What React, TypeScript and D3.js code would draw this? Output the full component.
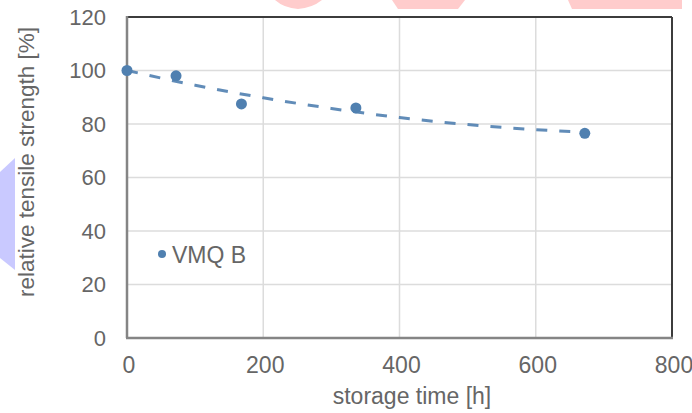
import React from "react";
import * as d3 from "d3";

// measured points (storage time in h, relative tensile strength in %)
const hours = [0, 72, 168, 336, 672];
const strength = [100, 98, 87.5, 86, 76.5];

// dashed trend line
const trendHours = [0, 100, 200, 300, 400, 500, 600, 672];
const trendStrength = [100, 94.5, 89.8, 85.8, 82.4, 79.8, 77.9, 76.9];

const xTicks = [0, 200, 400, 600, 800];
const yTicks = [0, 20, 40, 60, 80, 100, 120];

const seriesName = "VMQ B";

const width = 692;
const height = 413;
const font = "'Liberation Sans', Arial, sans-serif";
const blue = "#5080b0";
const labelColor = "#666666";

const App = () => {
    const x = d3.scaleLinear().domain([0, 800]).range([127, 672]);
    const y = d3.scaleLinear().domain([0, 120]).range([338, 17]);

    const trend = d3.line<number>()
        .x((d, i) => x(trendHours[i]))
        .y(d => y(d))
        .curve(d3.curveMonotoneX);

    const [x0, x1] = x.range();
    const [y0, y1] = y.range();

    return (
        <svg width={width} height={height}
            style={{ position: "absolute", left: 0, top: 0, background: "#fff" }}
            fontFamily={font}>
            {/* watermark bits of the source image */}
            <path d="M275,0 L322,0 Q312,8 298,9 Q284,8 275,0 Z" fill="#ffcccc" />
            <path d="M392,0 L465,0 L458,9 L398,9 Z" fill="#ffcccc" />
            <path d="M568,0 L682,0 L682,9 L572,9 Z" fill="#ffcccc" />
            <path d="M0,172 L15,158 L15,270 L0,258 Z" fill="#c9c9ff" />

            {/* grid */}
            {yTicks.filter(t => t > 0 && t < 120).map(t => (
                <line key={"gy" + t} x1={x0} x2={x1} y1={y(t)} y2={y(t)}
                    stroke="#dcdcdc" strokeWidth={1.5} />
            ))}
            {xTicks.filter(t => t > 0 && t < 800).map(t => (
                <line key={"gx" + t} x1={x(t)} x2={x(t)} y1={y0} y2={y1}
                    stroke="#dcdcdc" strokeWidth={1.5} />
            ))}

            {/* frame */}
            <line x1={x0} x2={x1} y1={y1} y2={y1} stroke="#3c3c3c" strokeWidth={2} />
            <line x1={x1} x2={x1} y1={y1} y2={y0} stroke="#3c3c3c" strokeWidth={2} />
            <line x1={x0} x2={x0} y1={y1 - 1} y2={y0} stroke="#858585" strokeWidth={2.5} />
            <line x1={x0 - 1} x2={x1 + 1} y1={y0} y2={y0} stroke="#858585" strokeWidth={2.5} />

            {/* tick labels */}
            {yTicks.map(t => (
                <text key={"ty" + t} x={106} y={y(t)} dy="0.36em" textAnchor="end"
                    fontSize={22} fill={labelColor}>{t}</text>
            ))}
            {xTicks.map(t => (
                <text key={"tx" + t} x={x(t) + 2} y={373} textAnchor="middle"
                    fontSize={23} fill={labelColor}>{t}</text>
            ))}

            {/* axis titles */}
            <text x={412} y={404} textAnchor="middle" fontSize={23} fill={labelColor}>
                storage time [h]
            </text>
            <text transform="translate(34,162) rotate(-90)" textAnchor="middle"
                fontSize={22.5} fill={labelColor}>
                relative tensile strength [%]
            </text>

            {/* trend line */}
            <path d={trend(trendStrength) || ""} fill="none" stroke={blue}
                strokeWidth={3} strokeDasharray="11,12" opacity={0.9} />

            {/* points */}
            {strength.map((v, i) => (
                <circle key={"p" + i} cx={x(hours[i])} cy={y(v)} r={5.5} fill={blue} />
            ))}

            {/* legend */}
            <circle cx={162} cy={254} r={4} fill={blue} />
            <text x={172} y={255} dy="0.36em" fontSize={23} fill={labelColor}>{seriesName}</text>
        </svg>
    );
};

export default App;
